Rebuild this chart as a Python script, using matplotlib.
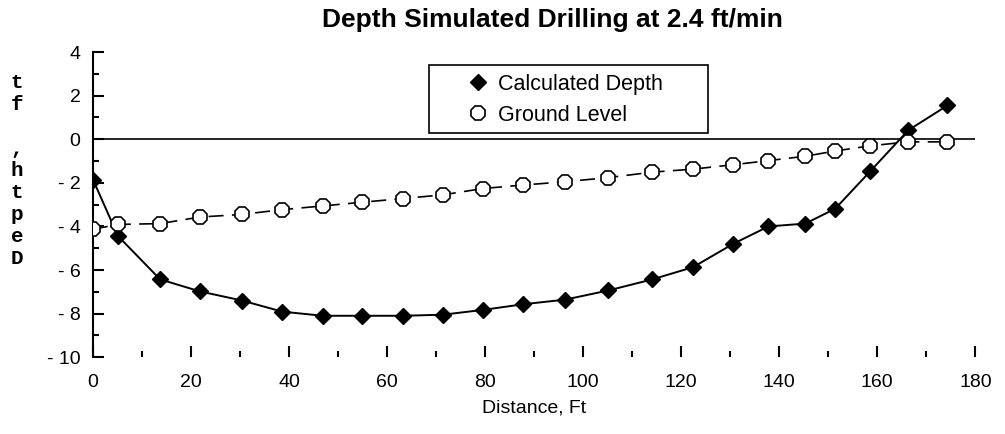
import matplotlib
matplotlib.use("Agg")
import matplotlib.pyplot as plt
from matplotlib.lines import Line2D
from matplotlib.patches import Rectangle
from matplotlib.ticker import MultipleLocator, FuncFormatter

plt.rcParams['font.family'] = ['Liberation Sans', 'DejaVu Sans']

# Datos
distancia = [0, 5.1, 13.7, 21.8, 30.4, 38.6, 46.9, 54.9, 63.3, 71.4, 79.6, 87.8,
             96.3, 105.1, 114.1, 122.4, 130.6, 137.8, 145.3, 151.4, 158.6, 166.3, 174.3]
prof_calculada = [-1.85, -4.44, -6.43, -6.98, -7.40, -7.91, -8.1, -8.1, -8.1, -8.05, -7.83, -7.57,
                  -7.36, -6.94, -6.43, -5.87, -4.80, -4.0, -3.87, -3.19, -1.46, 0.41, 1.55]
nivel_terreno = [-4.13, -3.91, -3.87, -3.57, -3.45, -3.23, -3.06, -2.89, -2.72, -2.55, -2.26, -2.1,
                 -1.95, -1.76, -1.51, -1.37, -1.17, -0.98, -0.78, -0.54, -0.3, -0.12, -0.12]

titulo = "Depth Simulated Drilling at 2.4 ft/min"
etiquetas = ["Calculated Depth", "Ground Level"]

fig = plt.figure(figsize=(10.05, 4.34), dpi=100)
ax = fig.add_axes([0.0925, 0.177, 0.878, 0.703])

# linea de cero
ax.axhline(0, color='black', linewidth=1.2, zorder=1)

# Series
ax.plot(distancia, prof_calculada, color='black', linewidth=1.4,
        marker='D', markersize=8, markerfacecolor='black', markeredgecolor='black', zorder=2)
ax.plot(distancia, nivel_terreno, color='black', linewidth=1.2, linestyle=(0, (9, 5)),
        marker='8', markersize=11, markerfacecolor='white', markeredgecolor='black',
        markeredgewidth=1.2, zorder=3)

ax.set_xlim(0, 180)
ax.set_ylim(-10, 4)

# Ejes
ax.spines['top'].set_visible(False)
ax.spines['right'].set_visible(False)
ax.spines['bottom'].set_visible(False)
ax.spines['left'].set_linewidth(1.5)

ax.xaxis.set_major_locator(MultipleLocator(20))
ax.xaxis.set_minor_locator(MultipleLocator(10))
ax.yaxis.set_major_locator(MultipleLocator(2))
ax.yaxis.set_minor_locator(MultipleLocator(1))
ax.yaxis.set_major_formatter(FuncFormatter(lambda v, p: f"- {abs(int(v))}" if v < 0 else f"{int(v)}"))

ax.tick_params(axis='both', which='major', direction='in', length=8, width=1.5,
               labelsize=14, color='black')
ax.tick_params(axis='both', which='minor', direction='in', length=4, width=1.5)
ax.tick_params(axis='x', which='major', pad=12)
ax.tick_params(axis='y', which='major', pad=9)

ax.set_xlabel("Distance, Ft", fontsize=14, labelpad=6)

# Titulo
fig.text(0.55, 0.955, titulo, ha='center', va='center', fontsize=19, fontweight='bold')

# Etiqueta vertical del eje y (letras apiladas)
fig.text(17 / 1005, 1 - 73 / 434, "\n".join("tf ,htpeD"), ha='center', va='top',
         family=['Liberation Mono', 'DejaVu Sans Mono'], fontsize=15, fontweight='bold',
         linespacing=1.2)

# Leyenda
manijas = [Line2D([], [], linestyle='none', marker='D', markersize=8, color='black'),
           Line2D([], [], linestyle='none', marker='8', markersize=11, markerfacecolor='white',
                  markeredgecolor='black', markeredgewidth=1.2)]
ax.legend(manijas, etiquetas, loc='upper left', bbox_to_anchor=(0.405, 0.985), frameon=False,
          fontsize=15.5, handlelength=1.0, handletextpad=0.4, labelspacing=0.45, borderpad=0.3)
ax.add_patch(Rectangle((0.381, 0.734), 0.316, 0.223, transform=ax.transAxes, fill=False,
                       edgecolor='black', linewidth=1.2, clip_on=False, zorder=4))

fig.savefig("out.png", dpi=100)
